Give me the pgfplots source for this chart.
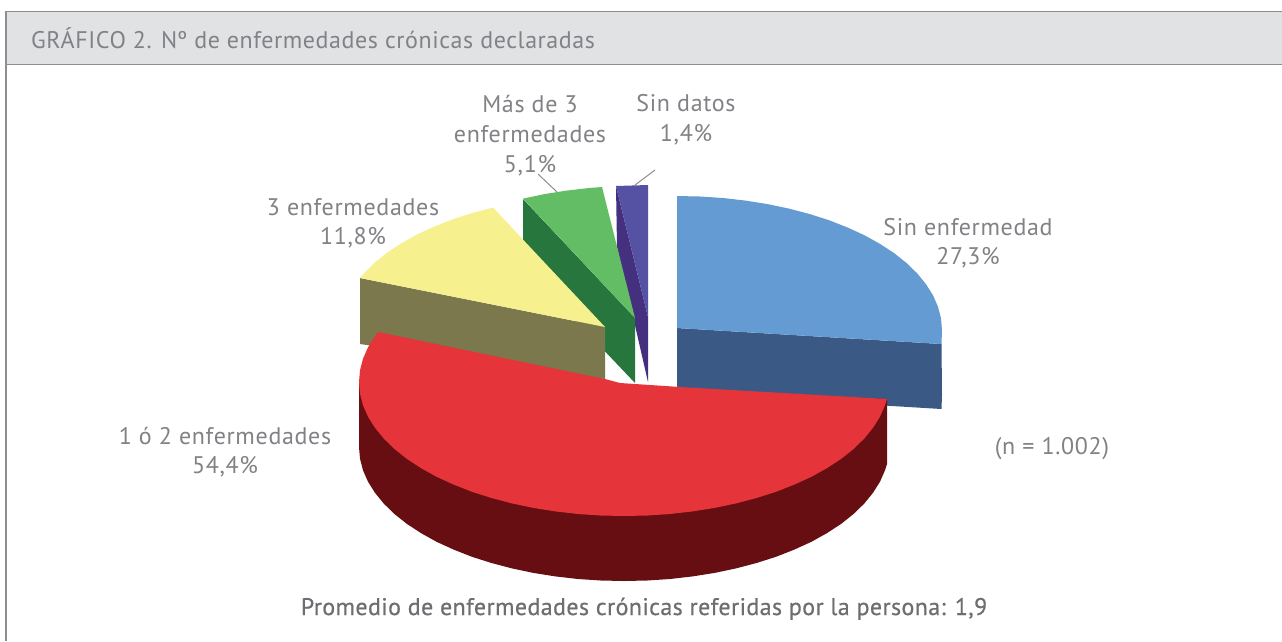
\documentclass[border=0pt]{standalone}
\usepackage{fontspec}
\setmainfont{PT Sans}[LetterSpace=2.8]
\newfontfamily\titlefont{PT Sans}[LetterSpace=2.4]
\newfontfamily\medfont{PT Sans}[LetterSpace=1.6,FakeBold=0.5]
\usepackage{pgfplots}
\pgfplotsset{compat=1.18}
\definecolor{txt}{HTML}{808285}
\definecolor{txtd}{HTML}{6D6E71}
\definecolor{bar}{HTML}{E1E2E4}
\definecolor{frm}{HTML}{8C8E90}
\definecolor{blueT}{HTML}{659BD3}
\definecolor{blueS}{HTML}{3A5A85}
\definecolor{redT}{HTML}{E5353A}
\definecolor{redS}{HTML}{670E12}
\definecolor{yelT}{HTML}{F6F08F}
\definecolor{yelS}{HTML}{7A784C}
\definecolor{grnT}{HTML}{63BD64}
\definecolor{grnS}{HTML}{26763D}
\definecolor{purT}{HTML}{5551A3}
\definecolor{purS}{HTML}{452F7F}
\tikzset{lbl/.style={font=\fontsize{24}{24}\selectfont, text=txt, anchor=base, inner sep=0pt}}
\begin{document}
\begin{tikzpicture}
\begin{axis}[
  scale only axis, width=1282pt, height=641pt,
  xmin=0, xmax=1282, ymin=0, ymax=641, y dir=reverse,
  hide axis, clip=true,
  every axis plot/.append style={no markers},
]
% page background, which also sets the extent of the picture
\addplot[fill=white, draw=none] coordinates {(0,0)(1282,0)(1282,641)(0,641)} --cycle;
% header and frame
\addplot[fill=bar, draw=none] coordinates {(6,11)(1282,11)(1282,65)(6,65)} --cycle;
\addplot[draw=frm, line width=1.5pt] coordinates {(6,641)(6,11.5)(1282,11.5)};
\addplot[draw=frm, line width=1.5pt] coordinates {(6,64.5)(1282,64.5)};
% blue
\addplot[fill=blueS, draw=none] coordinates {(677,328)(941.5,344)(942,395)(941.5,409)(677,393)} --cycle;
\addplot[fill=blueT, draw=none] coordinates {(677,196)(700.1,196.5)(723,198)(745.6,200.6)(767.6,204.1)(789,208.6)(809.5,214)(829,220.2)(847.3,227.4)(864.4,235.2)(880,243.9)(894.1,253.1)(906.5,263)(917.2,273.4)(926,284.2)(933,295.3)(938,306.7)(941,318.3)(942,330)(941.5,344)(677,328)} --cycle;
% purple
\addplot[fill=purS, draw=none] coordinates {(616,186)(648,317)(648,382)(617,247)} --cycle;
\addplot[fill=purT, draw=none] coordinates {(616,186)(648,185)(648,317)} --cycle;
% green
\addplot[fill=grnS, draw=none] coordinates {(523,199)(635,318)(635,383)(523,265)} --cycle;
\addplot[fill=grnT, draw=none] coordinates {(523,198.6)(544.4,194.1)(566.4,190.6)(589,188)(602,187)(635,318)} --cycle;
% yellow
\addplot[fill=yelS, draw=none] coordinates {(360,278)(605,327)(605,379)(360,344)} --cycle;
\addplot[fill=yelT, draw=none] coordinates {(493,207.6)(472.5,213)(453,219.2)(434.7,226.4)(417.6,234.2)(402,242.9)(387.9,252.1)(375.5,262)(364.8,272.4)(360,278)(605,327)} --cycle;
% red
\addplot[fill=redS, draw=none] coordinates {(359,382)(359,447)(360,458.7)(363,470.3)(368,481.7)(375,492.8)(383.8,503.6)(394.5,514)(406.9,523.9)(421,533.1)(436.6,541.8)(453.7,549.6)(472,556.8)(491.5,563)(512,568.4)(533.4,572.9)(555.4,576.4)(578,579)(600.9,580.5)(624,581)(647.1,580.5)(670,579)(692.6,576.4)(714.6,572.9)(736,568.4)(756.5,563)(776,556.8)(794.3,549.6)(811.4,541.8)(827,533.1)(841.1,523.9)(853.5,514)(864.2,503.6)(873,492.8)(880,481.7)(885,470.3)(887,464)(887,399)} --cycle;
\addplot[fill=redT, draw=none] coordinates {(378,332)(605,379)(620,383)(635,384)(680,387)(887,399)(885,405.3)(880,416.7)(873,427.8)(864.2,438.6)(853.5,449)(841.1,458.9)(827,468.1)(811.4,476.8)(794.3,484.6)(776,491.8)(756.5,498)(736,503.4)(714.6,507.9)(692.6,511.4)(670,514)(647.1,515.5)(624,516)(600.9,515.5)(578,514)(555.4,511.4)(533.4,507.9)(512,503.4)(491.5,498)(472,491.8)(453.7,484.6)(436.6,476.8)(421,468.1)(406.9,458.9)(394.5,449)(383.8,438.6)(375,427.8)(368,416.7)(363,405.3)(360,393.7)(359,382)(360,370.3)(363,358.7)(368,347.3)(375,336.2)} --cycle;
% leaders
\addplot[draw=frm, line width=1pt] coordinates {(538,174)(557,192)};
\addplot[draw=frm, line width=1pt] coordinates {(655,170)(635,185)};
% text
\node[lbl, anchor=base west] at (axis cs:31,48) {\titlefont GRÁFICO 2. Nº de enfermedades crónicas declaradas};
\node[lbl] at (axis cs:530,112) {Más de 3};
\node[lbl] at (axis cs:530,142) {enfermedades};
\node[lbl] at (axis cs:530,172) {5,1\%};
\node[lbl] at (axis cs:686,111) {Sin datos};
\node[lbl] at (axis cs:686,141) {1,4\%};
\node[lbl] at (axis cs:968,235) {Sin enfermedad};
\node[lbl] at (axis cs:968,264) {27,3\%};
\node[lbl] at (axis cs:353,215) {3 enfermedades};
\node[lbl] at (axis cs:353,244) {11,8\%};
\node[lbl] at (axis cs:225,444) {1 ó 2 enfermedades};
\node[lbl] at (axis cs:225,473) {54,4\%};
\node[lbl] at (axis cs:1052,454) {(n = 1.002)};
\node[lbl, text=txtd] at (axis cs:644,615) {\medfont Promedio de enfermedades crónicas referidas por la persona: 1,9};
\end{axis}
\end{tikzpicture}
\end{document}
